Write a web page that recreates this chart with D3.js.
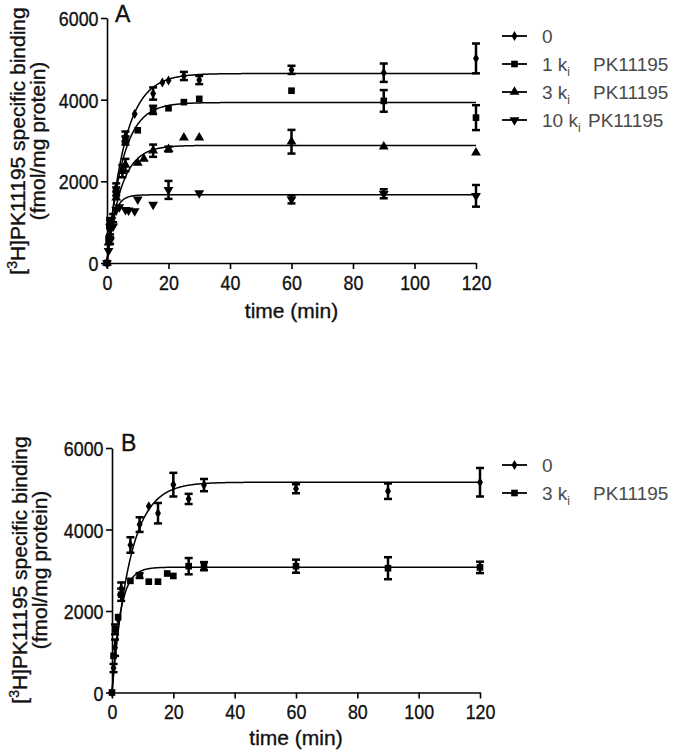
<!DOCTYPE html>
<html><head><meta charset="utf-8">
<script src="https://cdn.jsdelivr.net/npm/d3@7"></script>
<style>body{margin:0;background:#fff} svg{display:block} text{font-family:"Liberation Sans", Arial, sans-serif}</style>
</head><body>
<svg id="chart" width="675" height="752"></svg>
<script>
// ---------- Panel A data ----------
const doseA = ["0", "1", "3", "10"];
const timeA0 = [0, 1, 2, 3, 6, 9, 15, 18, 20, 25, 30, 60, 90, 120];
const valueA0 = [0, 800, 1100, 1850, 3100, 3650, 4150, 4420, 4470, 4580, 4480, 4730, 4660, 5010];
const errorA0 = [0, 100, 100, 100, 120, 0, 150, 0, 0, 100, 100, 100, 225, 365];
const timeA1 = [0, 0.5, 1, 3, 6, 10, 15, 20, 25, 30, 60, 90, 120];
const valueA1 = [0, 600, 950, 1750, 3000, 3250, 3750, 3790, 3940, 4020, 4220, 3970, 3560];
const errorA1 = [0, 0, 100, 100, 100, 0, 100, 0, 0, 0, 0, 265, 305];
const timeA2 = [0, 0.5, 1, 3, 5, 6, 10, 12, 15, 20, 25, 30, 60, 90, 120];
const valueA2 = [0, 500, 1000, 1600, 2250, 2400, 2450, 2550, 2750, 2790, 3070, 3070, 2970, 2850, 2700];
const errorA2 = [0, 0, 100, 0, 150, 150, 0, 0, 150, 60, 0, 0, 290, 0, 0];
const timeA3 = [0, 0.5, 1, 2, 3, 4, 6, 7, 9, 10, 15, 20, 30, 60, 90, 120];
const valueA3 = [0, 300, 550, 900, 1300, 1370, 1300, 1290, 1270, 1560, 1430, 1790, 1710, 1560, 1695, 1645];
const errorA3 = [0, 0, 80, 0, 0, 0, 0, 0, 0, 0, 0, 220, 0, 100, 110, 265];
// one-phase association fit parameters (plateau, rate constant per min)
const plateauA = [4640, 3930, 2880, 1670];
const rateA = [0.175, 0.2, 0.22, 0.5];

// ---------- Panel B data ----------
const doseB = ["0", "3"];
const timeB0 = [0, 0.5, 1, 2, 3, 6, 9, 12, 15, 20, 25, 30, 60, 90, 120];
const valueB0 = [0, 600, 1100, 1800, 2550, 3620, 4120, 4570, 4400, 5100, 4750, 5090, 5000, 4940, 5160];
const errorB0 = [0, 100, 200, 0, 150, 190, 180, 0, 250, 290, 125, 150, 110, 190, 350];
const timeB1 = [0, 0.5, 1, 2, 3, 6, 9, 12, 15, 18, 20, 25, 30, 60, 90, 120];
const valueB1 = [0, 900, 1550, 1850, 2400, 2740, 2870, 2720, 2720, 2920, 2860, 3100, 3100, 3100, 3050, 3070];
const errorB1 = [0, 0, 120, 0, 150, 0, 60, 0, 0, 0, 0, 200, 100, 160, 270, 140];
const plateauB = [5160, 3075];
const rateB = [0.17, 0.37];

// ---------- axes ticks ----------
const xTicks = [0, 20, 40, 60, 80, 100, 120];
const yTicks = [0, 2000, 4000, 6000];
const yTitle1 = "PK11195 specific binding";
const yTitle2 = "(fmol/mg protein)";
const xTitle = "time (min)";

const svg = d3.select("#chart");

const shapesA = ["diamond", "square", "up", "down"];
const shapesB = ["diamond", "square"];

function symbolPath(shape) {
  if (shape === "diamond") return d3.symbol(d3.symbolDiamond, 30)();
  if (shape === "square") return d3.symbol(d3.symbolSquare, 44)();
  return d3.symbol(d3.symbolTriangle, 42)();
}
function symbolTransform(shape, x, y) {
  return shape === "down" ? `translate(${x},${y}) rotate(180)` : `translate(${x},${y})`;
}
function heavy(sel, c) {
  return sel.attr("fill", c).attr("stroke", c).attr("stroke-width", 0.35);
}

function drawPanel(cfg) {
  const x = d3.scaleLinear().domain([0, 120]).range([cfg.x0, cfg.x1]);
  const y = d3.scaleLinear().domain([0, 6000]).range([cfg.y0, cfg.y1]);
  const g = svg.append("g");

  // fitted curves
  const tGrid = d3.range(0, 120.01, 0.25);
  cfg.series.forEach(s => {
    const line = d3.line().x(t => x(t)).y(t => y(s.plateau * (1 - Math.exp(-s.rate * t))));
    g.append("path").attr("d", line(tGrid)).attr("fill", "none")
      .attr("stroke", "#000").attr("stroke-width", 1.5);
  });

  // error bars + markers
  cfg.series.forEach(s => {
    s.time.forEach((t, i) => {
      const v = s.value[i], e = s.error[i];
      if (e > 0) {
        const eb = g.append("g").attr("stroke", "#000").attr("stroke-width", 2.5);
        eb.append("line").attr("x1", x(t)).attr("x2", x(t)).attr("y1", y(v - e)).attr("y2", y(v + e));
        [v - e, v + e].forEach(vv => eb.append("line")
          .attr("x1", x(t) - 4).attr("x2", x(t) + 4).attr("y1", y(vv)).attr("y2", y(vv)));
      }
      g.append("path").attr("d", symbolPath(s.shape))
        .attr("transform", symbolTransform(s.shape, x(t), y(v))).attr("fill", "#000");
    });
  });

  // axes
  const ya = g.append("g").attr("transform", `translate(${cfg.x0},0)`)
    .call(d3.axisLeft(y).tickValues(yTicks).tickSize(6).tickSizeOuter(0).tickFormat(d3.format("d")));
  const xa = g.append("g").attr("transform", `translate(0,${cfg.y0})`)
    .call(d3.axisBottom(x).tickValues(xTicks).tickSize(6).tickSizeOuter(0));
  [ya, xa].forEach(a => {
    a.select(".domain").attr("stroke", "#000").attr("stroke-width", 1.6);
    a.selectAll(".tick line").attr("stroke", "#000").attr("stroke-width", 1.6);
    heavy(a.selectAll(".tick text"), "#111").attr("font-size", 21)
      .attr("font-family", "'Liberation Sans', Arial, sans-serif");
  });
  ya.selectAll(".tick text").attr("x", -10).attr("dy", "0.36em")
    .attr("transform", "scale(0.85,1)");
  xa.selectAll(".tick text").attr("y", 12).attr("dy", "0.71em")
    .attr("transform", "scale(0.85,1)");

  // panel letter
  heavy(g.append("text"), "#111").attr("x", cfg.letterX).attr("y", cfg.letterY).attr("font-size", 23)
    .text(cfg.letter);

  // x title
  heavy(g.append("text"), "#111").attr("x", (cfg.x0 + cfg.x1) / 2).attr("y", cfg.xTitleY)
    .attr("text-anchor", "middle").attr("font-size", 21).text(xTitle);

  // y title
  const cy = cfg.yTitleCY;
  const t1 = heavy(g.append("text"), "#111").attr("transform", `translate(${cfg.yT1X},${cy}) rotate(-90)`)
    .attr("text-anchor", "middle").attr("font-size", 21);
  t1.append("tspan").text("[");
  t1.append("tspan").attr("font-size", 14).attr("dy", -8).text("3");
  t1.append("tspan").attr("dy", 8).text("H]" + yTitle1);
  heavy(g.append("text"), "#111").attr("transform", `translate(${cfg.yT2X},${cy}) rotate(-90)`)
    .attr("text-anchor", "middle").attr("font-size", 21).text(yTitle2);

  // legend
  cfg.legend.forEach((d, i) => {
    const ly = cfg.legY + i * 28;
    g.append("line").attr("x1", 502).attr("x2", 527).attr("y1", ly).attr("y2", ly)
      .attr("stroke", "#000").attr("stroke-width", 1.8);
    g.append("path").attr("d", symbolPath(d.shape))
      .attr("transform", symbolTransform(d.shape, 514.5, ly)).attr("fill", "#000");
    const tx = g.append("text").attr("x", 542).attr("y", ly + 7).attr("font-size", 19)
      .attr("fill", "#4a4a4a");
    if (d.dose === "0") { tx.text("0"); return; }
    tx.append("tspan").text(d.dose + " k");
    tx.append("tspan").attr("font-size", 12).attr("dy", 5).text("i");
    tx.append("tspan").attr("x", d.dose.length > 1 ? 588 : 593).attr("dy", -5).text("PK11195");
  });
}

drawPanel({
  x0: 107, x1: 476, y0: 263, y1: 18,
  letter: "A", letterX: 115, letterY: 22,
  xTitleY: 318, yTitleCY: 141, yT1X: 25, yT2X: 45,
  legY: 36,
  legend: doseA.map((d, i) => ({ dose: d, shape: shapesA[i] })),
  series: [
    { time: timeA0, value: valueA0, error: errorA0, plateau: plateauA[0], rate: rateA[0], shape: shapesA[0] },
    { time: timeA1, value: valueA1, error: errorA1, plateau: plateauA[1], rate: rateA[1], shape: shapesA[1] },
    { time: timeA2, value: valueA2, error: errorA2, plateau: plateauA[2], rate: rateA[2], shape: shapesA[2] },
    { time: timeA3, value: valueA3, error: errorA3, plateau: plateauA[3], rate: rateA[3], shape: shapesA[3] }
  ]
});

drawPanel({
  x0: 112, x1: 480, y0: 692.5, y1: 448,
  letter: "B", letterX: 121, letterY: 451,
  xTitleY: 745, yTitleCY: 570, yT1X: 27, yT2X: 47,
  legY: 465,
  legend: doseB.map((d, i) => ({ dose: d, shape: shapesB[i] })),
  series: [
    { time: timeB0, value: valueB0, error: errorB0, plateau: plateauB[0], rate: rateB[0], shape: shapesB[0] },
    { time: timeB1, value: valueB1, error: errorB1, plateau: plateauB[1], rate: rateB[1], shape: shapesB[1] }
  ]
});
</script>
</body></html>
